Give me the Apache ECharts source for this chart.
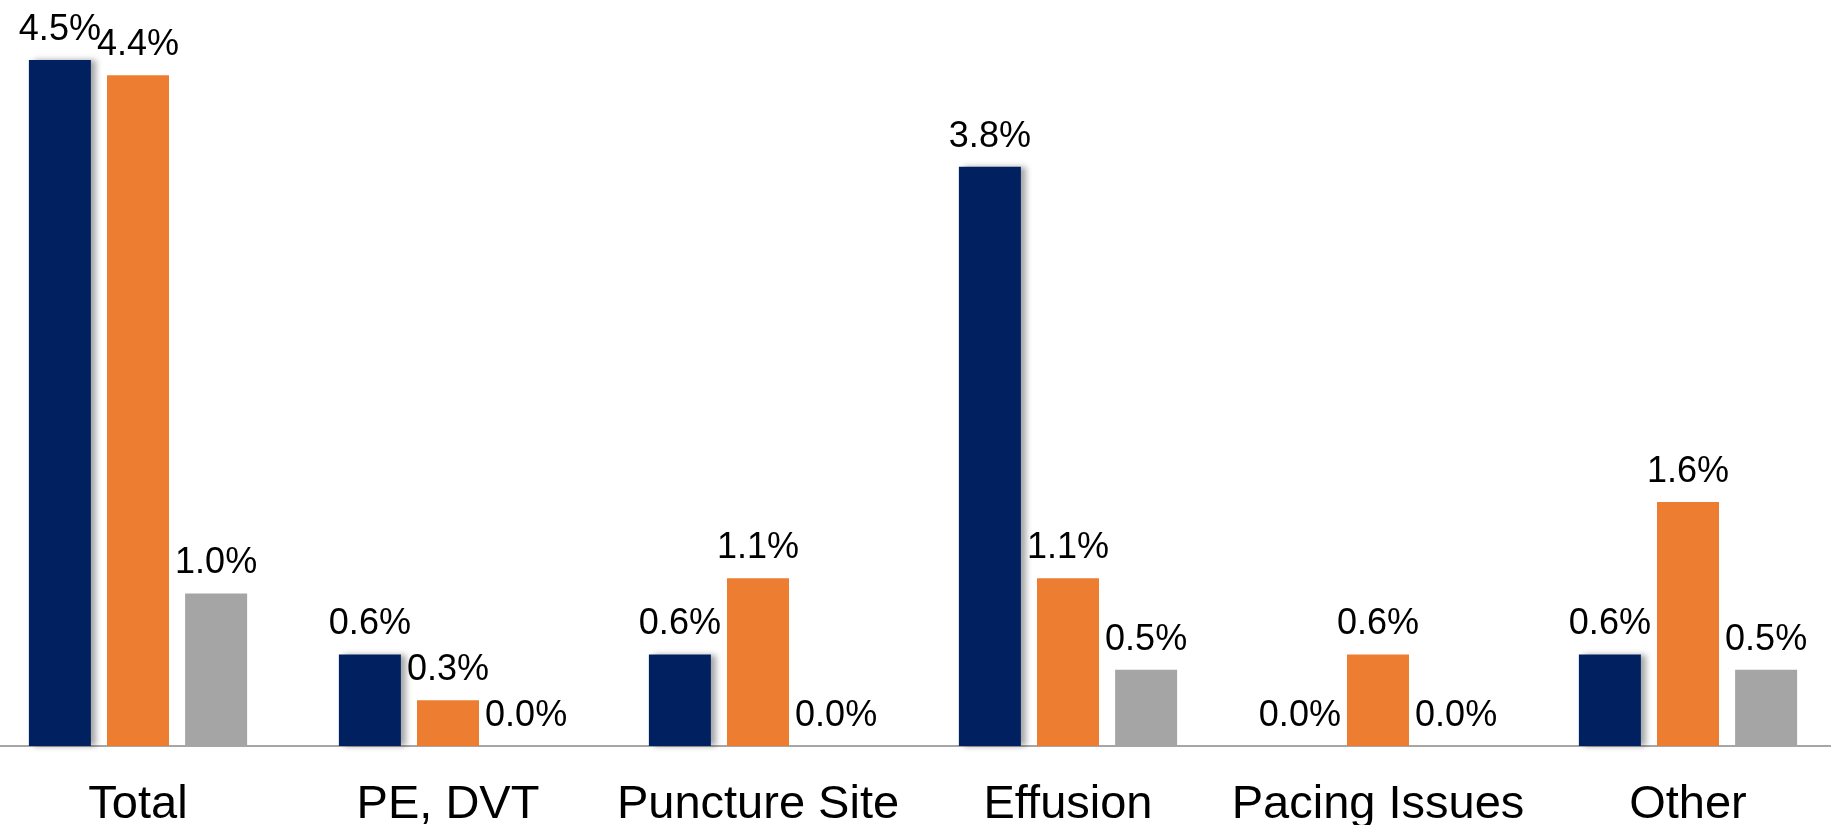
<!DOCTYPE html>
<html>
<head>
<meta charset="utf-8">
<style>
  html, body { margin: 0; padding: 0; background: #ffffff; }
  #chart { width: 1831px; height: 825px; }
</style>
<script src="https://cdn.jsdelivr.net/npm/echarts@6/dist/echarts.min.js"></script>
</head>
<body>
<div id="chart"></div>
<script>
// Complication rates (%) by category, three cohorts
const categories = ['Total', 'PE, DVT', 'Puncture Site', 'Effusion', 'Pacing Issues', 'Other'];
const cohortA = [4.5, 0.6, 0.6, 3.8, 0.0, 0.6];
const cohortB = [4.4, 0.3, 1.1, 1.1, 0.6, 1.6];
const cohortC = [1.0, 0.0, 0.0, 0.5, 0.0, 0.5];

const FONT = '"Liberation Sans", Arial, sans-serif';

const valueLabel = {
  show: true,
  position: 'top',
  distance: 12,
  fontFamily: FONT,
  fontSize: 36,
  color: '#000000',
  formatter: p => p.value.toFixed(1) + '%'
};

const chart = echarts.init(document.getElementById('chart'));
chart.setOption({
  animation: false,
  backgroundColor: '#ffffff',
  grid: {
    left: -17, right: -12, top: 60, bottom: 79,
    containLabel: false,
    outerBoundsMode: 'none'
  },
  xAxis: {
    type: 'category',
    data: categories,
    axisLine: { show: true, lineStyle: { color: '#a6a6a6', width: 2 } },
    axisTick: { show: false },
    axisLabel: {
      fontFamily: FONT,
      fontSize: 47,
      color: '#000000',
      margin: 36,
      interval: 0
    }
  },
  yAxis: {
    type: 'value',
    min: 0,
    max: 4.5,
    show: false,
    splitLine: { show: false }
  },
  series: [
    {
      name: 'Cohort A',
      type: 'bar',
      data: cohortA,
      barWidth: 62,
      barGap: '26%',
      itemStyle: {
        color: '#002060',
        shadowColor: 'rgba(0,0,0,0.35)',
        shadowBlur: 6,
        shadowOffsetX: 5,
        shadowOffsetY: 0
      },
      label: valueLabel
    },
    {
      name: 'Cohort B',
      type: 'bar',
      data: cohortB,
      barWidth: 62,
      barGap: '26%',
      itemStyle: { color: '#ed7d31' },
      label: valueLabel
    },
    {
      name: 'Cohort C',
      type: 'bar',
      data: cohortC,
      barWidth: 62,
      barGap: '26%',
      itemStyle: { color: '#a5a5a5' },
      label: valueLabel
    }
  ]
});
</script>
</body>
</html>
